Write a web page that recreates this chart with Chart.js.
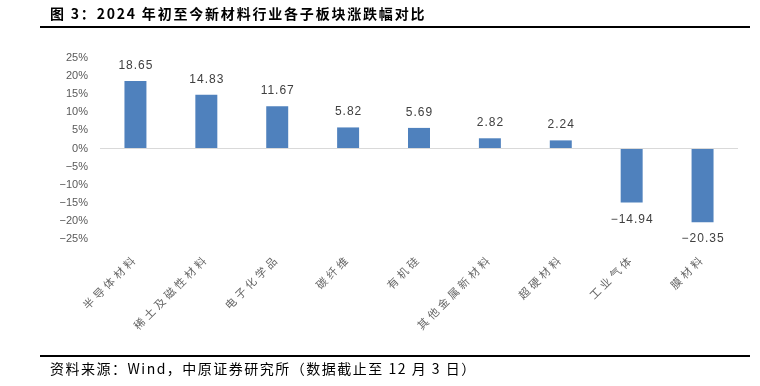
<!DOCTYPE html>
<html>
<head>
<meta charset="utf-8">
<script src="https://cdn.jsdelivr.net/npm/chart.js@4"></script>
<style>
  body { margin: 0; background: #fff; }
  #page { position: relative; width: 760px; height: 386px; overflow: hidden; font-family: "Noto Sans CJK SC", sans-serif; }
  #page canvas { position: absolute; left: 0; top: 0; }
  .titulo { position: absolute; left: 50px; top: 4px; font-size: 14px; font-weight: bold; letter-spacing: 1.8px; line-height: 18px; color: #000; white-space: nowrap; }
  .regla { position: absolute; left: 40px; width: 710px; height: 2px; background: #000; }
  .fuente { position: absolute; left: 50px; top: 359px; font-size: 14px; letter-spacing: 1.5px; line-height: 18px; color: #000; white-space: nowrap; }
</style>
</head>
<body>
<div id="page">
  <canvas id="grafico" width="760" height="386"></canvas>
  <div class="titulo">图 3：2024 年初至今新材料行业各子板块涨跌幅对比</div>
  <div class="regla" style="top:26px"></div>
  <div class="regla" style="top:355px"></div>
  <div class="fuente">资料来源：Wind，中原证券研究所（数据截止至 12 月 3 日）</div>
</div>
<script>
// datos del gráfico
const categorias = ["半导体材料", "稀土及磁性材料", "电子化学品", "碳纤维", "有机硅", "其他金属新材料", "超硬材料", "工业气体", "膜材料"];
const variacion = [18.65, 14.83, 11.67, 5.82, 5.69, 2.82, 2.24, -14.94, -20.35];
const ejeMin = -25;
const ejeMax = 25;
const ejePaso = 5;

const menos = v => String(v).replace("-", "\u2212");

// etiquetas encima / debajo de cada barra
const etiquetas = {
  id: "etiquetas",
  afterDatasetsDraw(chart) {
    const ctx = chart.ctx;
    const meta = chart.getDatasetMeta(0);
    ctx.save();
    ctx.font = "12px 'Liberation Sans', Arial, sans-serif";
    ctx.letterSpacing = "1px";
    ctx.fillStyle = "#404040";
    ctx.textAlign = "center";
    ctx.textBaseline = "middle";
    meta.data.forEach((bar, i) => {
      const v = variacion[i];
      const y = v >= 0 ? bar.y - 15.5 : bar.y + 17;
      ctx.fillText(menos(v.toFixed(2)), bar.x + 0.5, y);
    });
    ctx.restore();
  }
};

// espaciado entre caracteres de las categorías
const espaciado = {
  id: "espaciado",
  beforeDraw(chart) {
    const x = chart.scales.x;
    if (x._parcheado) return;
    const original = x.drawLabels;
    x.drawLabels = function (area) {
      this.ctx.save();
      this.ctx.letterSpacing = "3.3px";
      original.call(this, area);
      this.ctx.restore();
    };
    x._parcheado = true;
  }
};

const ctx = document.getElementById("grafico");
new Chart(ctx, {
  type: "bar",
  data: {
    labels: categorias,
    datasets: [{
      label: "涨跌幅",
      data: variacion,
      backgroundColor: "#4f81bd",
      borderWidth: 0,
      barPercentage: 0.31,
      categoryPercentage: 1
    }]
  },
  options: {
    responsive: false,
    animation: false,
    layout: { padding: { top: 58, right: 22, left: 0, bottom: 0 } },
    plugins: {
      legend: { display: false },
      tooltip: { enabled: false }
    },
    scales: {
      x: {
        grid: { display: false, drawTicks: false },
        border: { display: false },
        ticks: {
          color: "#666666",
          font: { family: "'Noto Sans CJK SC', sans-serif", size: 11 },
          minRotation: 45,
          maxRotation: 45,
          padding: 13,
          autoSkip: false
        },
        afterFit(scale) { scale.height = 147; }
      },
      y: {
        min: ejeMin,
        max: ejeMax,
        grid: {
          drawTicks: false,
          color: c => (c.tick && c.tick.value === 0 ? "#d9d9d9" : "rgba(0,0,0,0)"),
          lineWidth: 1
        },
        border: { display: false },
        ticks: {
          stepSize: ejePaso,
          color: "#595959",
          font: { family: "'Liberation Sans', Arial, sans-serif", size: 11 },
          padding: 12,
          callback: v => menos(v) + "%"
        },
        afterFit(scale) { scale.width = 100; }
      }
    }
  },
  plugins: [etiquetas, espaciado]
});
</script>
</body>
</html>
